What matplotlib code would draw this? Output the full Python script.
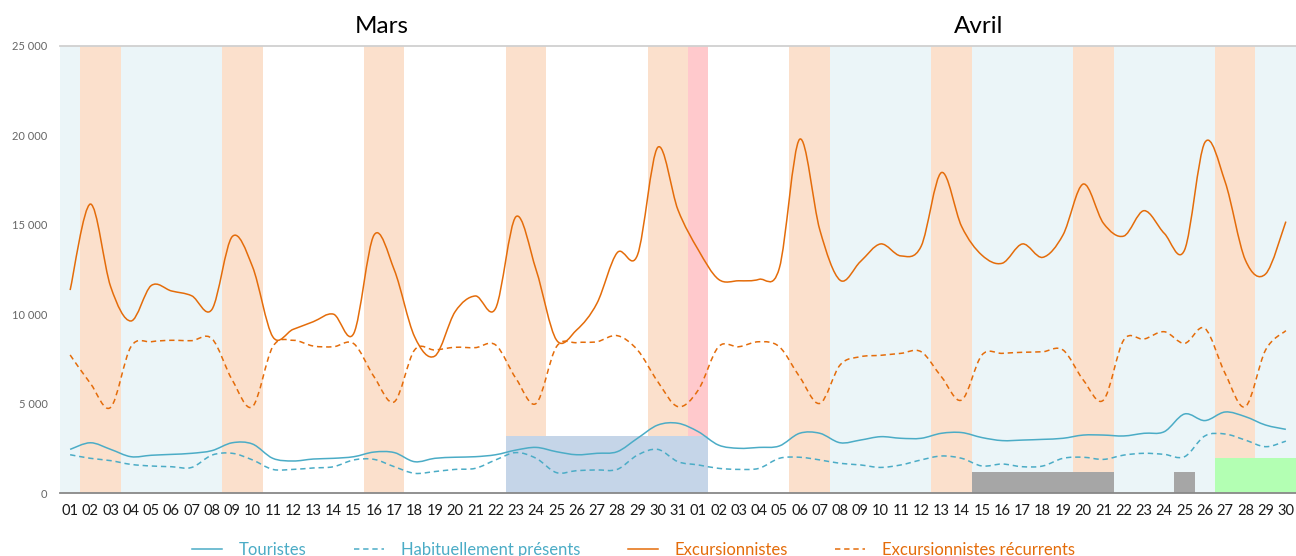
import matplotlib
matplotlib.use("Agg")
import matplotlib.pyplot as plt
from matplotlib.path import Path
from matplotlib.patches import PathPatch
from matplotlib.lines import Line2D
from matplotlib.ticker import FuncFormatter

# ---------------- data ----------------
day_labels = [f"{d:02d}" for d in range(1, 32)] + [f"{d:02d}" for d in range(1, 31)]
months = ["Mars", "Avril"]
month_label_pos = [15.36, 44.85]

touristes = [2440, 2810, 2440, 2030, 2110, 2160, 2220, 2370, 2810, 2740,
             1940, 1790, 1900, 1940, 2030, 2290, 2260, 1750, 1940, 2000,
             2030, 2140, 2400, 2550, 2310, 2140, 2220, 2310, 3060, 3800, 3900,
             3430, 2680, 2500, 2550, 2630, 3340, 3340, 2810, 2960, 3150,
             3060, 3060, 3340, 3380, 3100, 2930, 2960, 3000, 3060, 3240,
             3240, 3190, 3340, 3430, 4420, 4050, 4530, 4270, 3800, 3560]

habituellement = [2140, 1940, 1810, 1600, 1510, 1470, 1430, 2120, 2220, 1850,
                  1320, 1320, 1400, 1470, 1850, 1880, 1470, 1100, 1200, 1320,
                  1380, 1850, 2260, 1940, 1140, 1250, 1290, 1320, 2120, 2440, 1750,
                  1570, 1380, 1320, 1380, 1940, 2000, 1850, 1660, 1570, 1430,
                  1570, 1850, 2070, 1940, 1510, 1620, 1470, 1510, 1940, 2000,
                  1880, 2120, 2220, 2160, 2030, 3190, 3300, 2960, 2590, 2900]

excursionnistes = [11350, 16160, 11540, 9620, 11600, 11300, 11030, 10270, 14340, 12660,
                   8740, 9150, 9580, 10000, 8930, 14430, 12470, 8740, 7660, 10140,
                   11020, 10330, 15450, 12470, 8560, 9120, 10610, 13440, 13310, 19330, 15830,
                   13600, 11950, 11870, 11950, 12570, 19780, 14710, 11900, 12940, 13930,
                   13260, 13800, 17920, 14900, 13300, 12850, 13930, 13180, 14430, 17280,
                   15080, 14370, 15790, 14520, 13590, 19600, 17410, 13030, 12250, 15180]

excursionnistes_recurrents = [7720, 6130, 4790, 8180, 8460, 8540, 8520, 8630, 6320, 4830,
                              8180, 8540, 8220, 8180, 8350, 6500, 5100, 8000, 8000, 8150,
                              8130, 8280, 6410, 5010, 8180, 8410, 8460, 8800, 8000, 6230, 4830,
                              5760, 8180, 8180, 8460, 8180, 6500, 5010, 7160, 7620, 7700,
                              7810, 7900, 6500, 5200, 7720, 7810, 7870, 7900, 8000, 6320,
                              5200, 8560, 8610, 9020, 8370, 9210, 6690, 4830, 8000, 9080]

# background category per day: V = vacances, W = week-end, F = ferie, N = none
day_type = (["V"] + ["W"] * 2 + ["V"] * 5 + ["W"] * 2 + ["N"] * 5 + ["W"] * 2 +
            ["N"] * 5 + ["W"] * 2 + ["N"] * 5 + ["W"] * 2 +
            ["F"] + ["N"] * 4 + ["W"] * 2 + ["V"] * 5 + ["W"] * 2 + ["V"] * 5 +
            ["W"] * 2 + ["V"] * 5 + ["W"] * 2 + ["V"] * 2)

# overlay columns
evenement_bleu = [0] * 22 + [3200] * 10 + [0] * 29
evenement_gris = [0] * 45 + [1170] * 7 + [0] * 3 + [1170] + [0] * 5
evenement_vert = [0] * 57 + [1950] * 4

# ---------------- style ----------------
C_TOUR = "#4BACC6"
C_EXC = "#E46C0A"
band_colors = {"V": "#EBF5F8", "W": "#FBE0CC", "F": "#FFC9CC", "N": "#FFFFFF"}

plt.rcParams["font.family"] = ["Lato", "DejaVu Sans"]

fig = plt.figure(figsize=(12.96, 5.56), dpi=100)
ax = fig.add_axes([60 / 1296, 1 - 493 / 556, 1236 / 1296, 447 / 556])

idx = list(range(len(day_labels)))
ymax = 25000

ax.bar(idx, [ymax] * len(idx), width=1.0, color=[band_colors[t] for t in day_type],
       linewidth=0, zorder=0)
ax.bar(idx, evenement_bleu, width=1.0, color="#C5D5E8", linewidth=0, zorder=1)
ax.bar(idx, evenement_gris, width=1.0, color="#A6A6A6", linewidth=0, zorder=1)
ax.bar(idx, evenement_vert, width=1.0, color="#B3FFB3", linewidth=0, zorder=1)


def smooth_path(xs, ys):
    n = len(xs)
    verts = [(xs[0], ys[0])]
    codes = [Path.MOVETO]
    for i in range(n - 1):
        p0 = i - 1 if i > 0 else i
        p3 = i + 2 if i + 2 < n else i + 1
        c1 = (xs[i] + (xs[i + 1] - xs[p0]) / 6, ys[i] + (ys[i + 1] - ys[p0]) / 6)
        c2 = (xs[i + 1] - (xs[p3] - xs[i]) / 6, ys[i + 1] - (ys[p3] - ys[i]) / 6)
        verts += [c1, c2, (xs[i + 1], ys[i + 1])]
        codes += [Path.CURVE4] * 3
    return Path(verts, codes)


series = [
    ("Touristes", touristes, C_TOUR, "-"),
    ("Habituellement présents", habituellement, C_TOUR, (0, (3.5, 2.5))),
    ("Excursionnistes", excursionnistes, C_EXC, "-"),
    ("Excursionnistes récurrents", excursionnistes_recurrents, C_EXC, (0, (3.5, 2.5))),
]
handles = []
for name, vals, col, ls in series:
    patch = PathPatch(smooth_path(idx, vals), fill=False, edgecolor=col, lw=1.1,
                      linestyle=ls, zorder=3, capstyle="butt")
    ax.add_patch(patch)
    handles.append(Line2D([], [], color=col, lw=1.1, linestyle=ls, label=name))

ax.set_xlim(-0.5, len(idx) - 0.5)
ax.set_ylim(0, ymax)
ax.set_xticks(idx)
ax.set_xticklabels(day_labels, fontsize=10.5, color="#1a1a1a")
ax.set_yticks(range(0, 25001, 5000))
ax.yaxis.set_major_formatter(FuncFormatter(lambda v, p: f"{int(v):,}".replace(",", " ")))
ax.tick_params(axis="y", length=0, pad=9, labelsize=8, labelcolor="#666666")
ax.tick_params(axis="x", length=0, pad=8)

for s in ["left", "right", "top"]:
    ax.spines[s].set_visible(False)
ax.spines["bottom"].set_color("#888888")
ax.spines["bottom"].set_linewidth(1.3)
ax.spines["bottom"].set_zorder(4)
ax.axhline(ymax, color="#D0D0D0", lw=1.3, zorder=4, clip_on=False)

for m, pos in zip(months, month_label_pos):
    ax.text(pos, 1.044, m, transform=ax.get_xaxis_transform(), ha="center", va="center",
            fontsize=17.5, color="#000000")

leg = fig.legend(handles=handles, loc="center", bbox_to_anchor=(0.489, 0.0105),
                 ncol=4, frameon=False, fontsize=12, handlelength=1.8,
                 handletextpad=1.0, columnspacing=2.85, labelcolor="linecolor",
                 borderpad=0, borderaxespad=0)

fig.savefig("out.png", dpi=100)
